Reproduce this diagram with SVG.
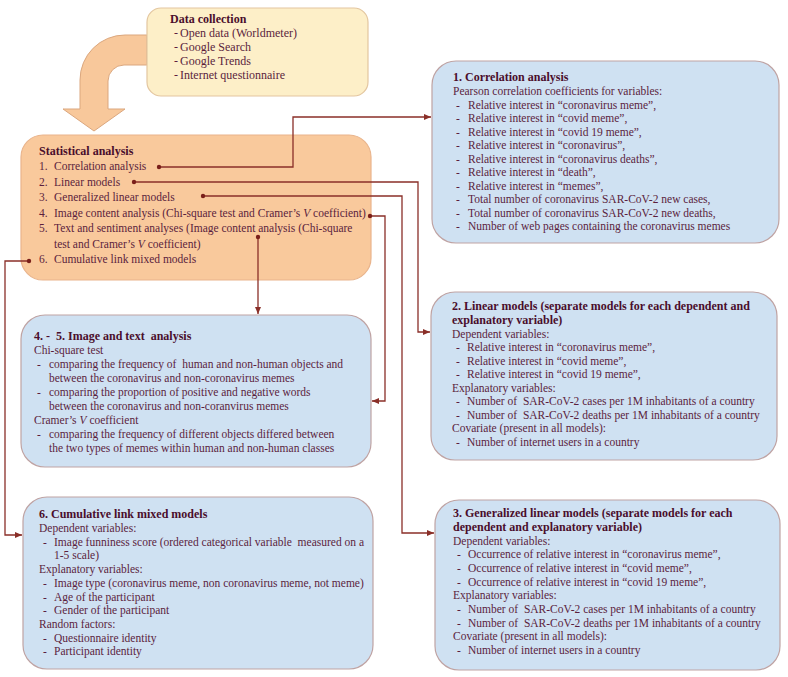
<svg xmlns="http://www.w3.org/2000/svg" width="788" height="677" viewBox="0 0 788 677">
<style>
.t{font-family:"Liberation Serif","Times New Roman",serif;font-size:11.5px;fill:#5b1e3d}
.b{font-weight:bold;font-size:12px;fill:#4a0e2c}
.dc{font-size:12px}
.i{font-style:italic}
.blue{fill:#cfe1f2;stroke:#bfa3a3;stroke-width:1.2}
.orange{fill:#f9c99c;stroke:#e9b48c;stroke-width:1.2}
.yellow{fill:#fdefc8;stroke:#e3c6a0;stroke-width:1.2}
.c{fill:none;stroke:#8a2f28;stroke-width:1.3}
.dot{fill:#7a1f1a}
</style>
<defs>
<marker id="ah" markerUnits="userSpaceOnUse" markerWidth="8" markerHeight="6" refX="7" refY="3" orient="auto">
<path d="M0,0 L7,3 L0,6 z" fill="#8a2f28"/>
</marker>
</defs>

<g id="arrow-big">
<path d="M147,35 H125 A45,45 0 0 0 80,80 V109 H63 L94,131 L125,109 H108 V81 A16,16 0 0 1 124,65 H147 Z" fill="#f8c89b" stroke="#dba77e" stroke-width="1"/>
</g>

<g id="data-collection">
<rect class="yellow" x="147" y="8" width="221" height="88" rx="14"/>
<text class="t b" x="170" y="22.5">Data collection</text>
<text class="t dc" y="36.5"><tspan x="174">-</tspan><tspan x="180">Open data (Worldmeter)</tspan></text>
<text class="t dc" y="50.5"><tspan x="174">-</tspan><tspan x="180">Google Search</tspan></text>
<text class="t dc" y="64.5"><tspan x="174">-</tspan><tspan x="180">Google Trends</tspan></text>
<text class="t dc" y="78.5"><tspan x="174">-</tspan><tspan x="180">Internet questionnaire</tspan></text>
</g>

<g id="statistical-analysis">
<rect class="orange" x="21" y="135" width="350" height="145" rx="22"/>
<text class="t b" x="39" y="155">Statistical analysis</text>
<text class="t" y="170"><tspan x="39">1.</tspan><tspan x="54">Correlation analysis</tspan></text>
<text class="t" y="185.5"><tspan x="39">2.</tspan><tspan x="54">Linear models</tspan></text>
<text class="t" y="201"><tspan x="39">3.</tspan><tspan x="54">Generalized linear models</tspan></text>
<text class="t" y="216.5"><tspan x="39">4.</tspan><tspan x="54">Image content analysis (Chi-square test and Cramer’s </tspan><tspan class="i">V</tspan><tspan> coefficient)</tspan></text>
<text class="t" y="232"><tspan x="39">5.</tspan><tspan x="54">Text and sentiment analyses (Image content analysis (Chi-square</tspan></text>
<text class="t" y="247.5"><tspan x="54">test and Cramer’s </tspan><tspan class="i">V</tspan><tspan> coefficient)</tspan></text>
<text class="t" y="263"><tspan x="39">6.</tspan><tspan x="54">Cumulative link mixed models</tspan></text>
</g>

<g id="correlation">
<rect class="blue" x="432" y="61" width="347" height="182" rx="24"/>
<text class="t b" x="453" y="81">1. Correlation analysis</text>
<text class="t" x="453" y="95">Pearson correlation coefficients for variables:</text>
<text class="t" y="108.5"><tspan x="456">-</tspan><tspan x="468">Relative interest in “coronavirus meme”,</tspan></text>
<text class="t" y="122"><tspan x="456">-</tspan><tspan x="468">Relative interest in “covid meme”,</tspan></text>
<text class="t" y="135.5"><tspan x="456">-</tspan><tspan x="468">Relative interest in “covid 19 meme”,</tspan></text>
<text class="t" y="149"><tspan x="456">-</tspan><tspan x="468">Relative interest in “coronavirus”,</tspan></text>
<text class="t" y="162.5"><tspan x="456">-</tspan><tspan x="468">Relative interest in “coronavirus deaths”,</tspan></text>
<text class="t" y="176"><tspan x="456">-</tspan><tspan x="468">Relative interest in “death”,</tspan></text>
<text class="t" y="189.5"><tspan x="456">-</tspan><tspan x="468">Relative interest in “memes”,</tspan></text>
<text class="t" y="203"><tspan x="456">-</tspan><tspan x="468">Total number of coronavirus SAR-CoV-2 new cases,</tspan></text>
<text class="t" y="216.5"><tspan x="456">-</tspan><tspan x="468">Total number of coronavirus SAR-CoV-2 new deaths,</tspan></text>
<text class="t" y="230"><tspan x="456">-</tspan><tspan x="468">Number of web pages containing the coronavirus memes</tspan></text>
</g>

<g id="image-text">
<rect class="blue" x="21" y="315" width="350" height="152" rx="24"/>
<text class="t b" x="34" y="340" xml:space="preserve">4. -  5. Image and text  analysis</text>
<text class="t" x="34" y="354">Chi-square test</text>
<text class="t" y="368" xml:space="preserve"><tspan x="37">-</tspan><tspan x="49">comparing the frequency of  human and non-human objects and</tspan></text>
<text class="t" y="382"><tspan x="49">between the coronavirus and non-coronavirus memes</tspan></text>
<text class="t" y="396"><tspan x="37">-</tspan><tspan x="49">comparing the proportion of positive and negative words</tspan></text>
<text class="t" y="410"><tspan x="49">between the coronavirus and non-coranvirus memes</tspan></text>
<text class="t" y="424"><tspan x="34">Cramer’s </tspan><tspan class="i">V</tspan><tspan> coefficient</tspan></text>
<text class="t" y="438"><tspan x="37">-</tspan><tspan x="49">comparing the frequency of different objects differed between</tspan></text>
<text class="t" y="452"><tspan x="49">the two types of memes within human and non-human classes</tspan></text>
</g>

<g id="linear-models">
<rect class="blue" x="431" y="292" width="346" height="168" rx="24"/>
<text class="t b" x="452" y="310">2. Linear models (separate models for each dependent and</text>
<text class="t b" x="452" y="324">explanatory variable)</text>
<text class="t" x="452" y="337.5">Dependent variables:</text>
<text class="t" y="351"><tspan x="456">-</tspan><tspan x="467">Relative interest in “coronavirus meme”,</tspan></text>
<text class="t" y="364.5"><tspan x="456">-</tspan><tspan x="467">Relative interest in “covid meme”,</tspan></text>
<text class="t" y="378"><tspan x="456">-</tspan><tspan x="467">Relative interest in “covid 19 meme”,</tspan></text>
<text class="t" x="452" y="391.5">Explanatory variables:</text>
<text class="t" y="405" xml:space="preserve"><tspan x="456">-</tspan><tspan x="467">Number of  SAR-CoV-2 cases per 1M inhabitants of a country</tspan></text>
<text class="t" y="418.5" xml:space="preserve"><tspan x="456">-</tspan><tspan x="467">Number of  SAR-CoV-2 deaths per 1M inhabitants of a country</tspan></text>
<text class="t" x="452" y="432">Covariate (present in all models):</text>
<text class="t" y="445.5"><tspan x="456">-</tspan><tspan x="467">Number of internet users in a country</tspan></text>
</g>

<g id="clmm">
<rect class="blue" x="23" y="497" width="350" height="172" rx="24"/>
<text class="t b" x="39" y="518">6. Cumulative link mixed models</text>
<text class="t" x="39" y="532">Dependent variables:</text>
<text class="t" y="545.5" xml:space="preserve"><tspan x="43">-</tspan><tspan x="54">Image funniness score (ordered categorical variable  measured on a</tspan></text>
<text class="t" y="559"><tspan x="54">1-5 scale)</tspan></text>
<text class="t" x="39" y="573">Explanatory variables:</text>
<text class="t" y="586.5"><tspan x="43">-</tspan><tspan x="54">Image type (coronavirus meme, non coronavirus meme, not meme)</tspan></text>
<text class="t" y="600.5"><tspan x="43">-</tspan><tspan x="54">Age of the participant</tspan></text>
<text class="t" y="614"><tspan x="43">-</tspan><tspan x="54">Gender of the participant</tspan></text>
<text class="t" x="39" y="628">Random factors:</text>
<text class="t" y="641.5"><tspan x="43">-</tspan><tspan x="54">Questionnaire identity</tspan></text>
<text class="t" y="655"><tspan x="43">-</tspan><tspan x="54">Participant identity</tspan></text>
</g>

<g id="glm">
<rect class="blue" x="435" y="500" width="345" height="170" rx="24"/>
<text class="t b" x="453" y="517">3. Generalized linear models (separate models for each</text>
<text class="t b" x="453" y="531">dependent and explanatory variable)</text>
<text class="t" x="453" y="544.5">Dependent variables:</text>
<text class="t" y="558"><tspan x="457">-</tspan><tspan x="468">Occurrence of relative interest in “coronavirus meme”,</tspan></text>
<text class="t" y="572"><tspan x="457">-</tspan><tspan x="468">Occurrence of relative interest in “covid meme”,</tspan></text>
<text class="t" y="585.5"><tspan x="457">-</tspan><tspan x="468">Occurrence of relative interest in “covid 19 meme”,</tspan></text>
<text class="t" x="453" y="599">Explanatory variables:</text>
<text class="t" y="613" xml:space="preserve"><tspan x="457">-</tspan><tspan x="468">Number of  SAR-CoV-2 cases per 1M inhabitants of a country</tspan></text>
<text class="t" y="626.5" xml:space="preserve"><tspan x="457">-</tspan><tspan x="468">Number of  SAR-CoV-2 deaths per 1M inhabitants of a country</tspan></text>
<text class="t" x="453" y="640">Covariate (present in all models):</text>
<text class="t" y="654"><tspan x="457">-</tspan><tspan x="468">Number of internet users in a country</tspan></text>
</g>

<g id="connectors">
<path class="c" d="M159,167 H293 V117 H431" marker-end="url(#ah)"/>
<path class="c" d="M134,182 H418 V332 H430" marker-end="url(#ah)"/>
<path class="c" d="M203,196 H402 V533 H434" marker-end="url(#ah)"/>
<path class="c" d="M370,216 H385 V401 H372" marker-end="url(#ah)"/>
<path class="c" d="M258,237 V314" marker-end="url(#ah)"/>
<path class="c" d="M29,261 H5 V535 H22" marker-end="url(#ah)"/>
<circle class="dot" cx="159" cy="167" r="2.2"/>
<circle class="dot" cx="134" cy="182" r="2.2"/>
<circle class="dot" cx="203" cy="196" r="2.2"/>
<circle class="dot" cx="370" cy="216" r="2.2"/>
<circle class="dot" cx="258" cy="237" r="2.2"/>
<circle class="dot" cx="29" cy="261" r="2.2"/>
</g>
</svg>
